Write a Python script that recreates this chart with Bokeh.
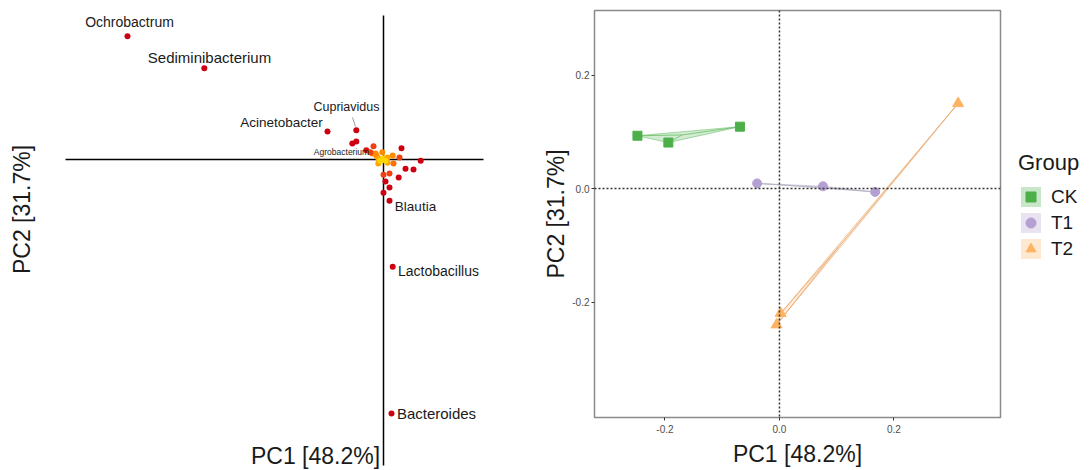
import numpy as np
from bokeh.plotting import figure
from bokeh.models import (ColumnDataSource, Span, Legend, LegendItem, LinearColorMapper,
                          FixedTicker, NumeralTickFormatter)
from bokeh.layouts import row
from bokeh.embed import file_html
from bokeh.resources import INLINE
from bokeh.core.properties import value

FONT = "Liberation Sans"

# ---------------- Left panel: genus loadings ----------------
genus_names = ["Ochrobactrum", "Sediminibacterium", "Cupriavidus", "Acinetobacter",
               "Agrobacterium", "Blautia", "Lactobacillus", "Bacteroides"]
genus_x = [-0.640, -0.448, -0.068, -0.140, -0.033, 0.015, 0.023, 0.020]
genus_y = [0.308, 0.228, 0.073, 0.070, 0.018, -0.103, -0.268, -0.635]

other_x = [-0.068, -0.078, -0.025, 0.045, -0.028, -0.018, -0.003, -0.013, 0.000, 0.010,
           0.023, 0.040, 0.093, -0.013, 0.010, 0.025, 0.055, 0.075, 0.000, 0.015,
           0.038, 0.005, 0.015, 0.000, -0.020, -0.008, 0.005, -0.043]
other_y = [0.045, 0.040, 0.033, 0.028, 0.015, 0.010, 0.018, 0.003, 0.003, 0.005,
           0.010, 0.005, -0.003, -0.010, -0.008, -0.010, -0.023, -0.025, -0.038, -0.035,
           -0.045, -0.055, -0.070, -0.083, 0.015, -0.003, -0.003, 0.023]

# label placement (layout, not data)
label_pos_x = [-0.635, -0.435, -0.0925, -0.255, -0.105, 0.080, 0.1375, 0.1325]
label_pos_y = [0.345, 0.255, 0.1325, 0.0925, 0.020, -0.1175, -0.2775, -0.635]
label_sizes = ["14px", "15px", "12.5px", "13.5px", "8.5px", "13.5px", "14px", "15px"]

# ---------------- Right panel: sample scores ----------------
groups = ["CK", "T1", "T2"]
ck_x = [-0.248, -0.194, -0.069]
ck_y = [0.093, 0.081, 0.109]
t1_x = [-0.039, 0.076, 0.167]
t1_y = [0.009, 0.004, -0.006]
t2_x = [0.312, 0.002, -0.005]
t2_y = [0.150, -0.220, -0.240]

group_colors = {"CK": "#4DAF4A", "T1": "#B4A0D2", "T2": "#FDB462"}
group_markers = {"CK": "square", "T1": "circle", "T2": "triangle"}
group_sizes = {"CK": 9, "T1": 9, "T2": 11}
line_colors = {"CK": "#6DBF6A", "T1": "#B8B0C4", "T2": "#E8A870"}

H = 470

# ===== left figure =====
XL0, XL1 = -0.9575, 0.3925
YL0, YL1 = -0.7775, 0.3975
p1 = figure(width=540, height=H, x_range=(XL0, XL1), y_range=(YL0, YL1),
            x_axis_location=None, y_axis_location=None, min_border=0,
            toolbar_location=None, output_backend="svg")
p1.outline_line_color = None
p1.grid.grid_line_color = None

# reference axes
p1.segment(x0=[-0.795], y0=[0.0], x1=[0.25], y1=[0.0], line_color="black", line_width=1.5)
p1.segment(x0=[0.0], y0=[0.36], x1=[0.0], y1=[-0.765], line_color="black", line_width=1.5)

# leader line for Cupriavidus
p1.segment(x0=[-0.0775], y0=[0.105], x1=[-0.0700], y1=[0.0825], line_color="#9a9a9a", line_width=1)

all_x = np.array(other_x + genus_x)
all_y = np.array(other_y + genus_y)
dist = np.sqrt(all_x ** 2 + all_y ** 2)
pts = ColumnDataSource(dict(x=all_x, y=all_y, d=dist))
palette = ["#FFD700", "#FFA500", "#FF8C00", "#FF7000", "#F04010", "#D81010", "#CC0010", "#CC0010"]
mapper = LinearColorMapper(palette=palette, low=0.0, high=0.07)
p1.scatter("x", "y", source=pts, size=6, fill_color={"field": "d", "transform": mapper},
           line_color=None)

lab = ColumnDataSource(dict(x=label_pos_x, y=label_pos_y, t=genus_names, s=label_sizes))
p1.text("x", "y", text="t", source=lab, text_font=value(FONT), text_font_size="s",
        text_align="center", text_baseline="middle", text_color="#1a1a1a")

p1.text(x=[-0.905], y=[-0.125], text=["PC2 [31.7%]"], angle=np.pi / 2,
        text_font=value(FONT), text_font_size="23px", text_align="center",
        text_baseline="middle", text_color="#1a1a1a")
p1.text(x=[-0.17], y=[-0.74], text=["PC1 [48.2%]"],
        text_font=value(FONT), text_font_size="23px", text_align="center",
        text_baseline="middle", text_color="#1a1a1a")

# ===== right figure =====
p2 = figure(width=465, height=H, x_range=(-0.323, 0.386), y_range=(-0.4035, 0.3137),
            min_border_left=54, min_border_right=5, min_border_top=10, min_border_bottom=53,
            toolbar_location=None, output_backend="svg")
p2.grid.grid_line_color = None
p2.outline_line_color = "#8a8a8a"
p2.outline_line_width = 1.5

for ax in (p2.xaxis[0], p2.yaxis[0]):
    ax.ticker = FixedTicker(ticks=[-0.2, 0.0, 0.2])
    ax.formatter = NumeralTickFormatter(format="0.0")
    ax.axis_line_color = None
    ax.major_tick_line_color = "#333333"
    ax.major_tick_out = 3
    ax.major_tick_in = 0
    ax.minor_tick_line_color = None
    ax.major_label_text_font = FONT
    ax.major_label_text_font_size = "10px"
    ax.major_label_text_color = "#4d4d4d"
    ax.axis_label_text_font = FONT
    ax.axis_label_text_font_size = "23px"
    ax.axis_label_text_font_style = "normal"
    ax.axis_label_text_color = "#1a1a1a"
p2.xaxis.axis_label = "PC1 [48.2%]"
p2.yaxis.axis_label = "PC2 [31.7%]"
p2.xaxis.major_label_standoff = 4
p2.xaxis.axis_label_standoff = 5
p2.yaxis.major_label_standoff = 2
p2.yaxis.axis_label_standoff = 0

p2.add_layout(Span(location=0, dimension="height", line_color="#333333",
                   line_width=1.5, line_dash="2 2"))
p2.add_layout(Span(location=0, dimension="width", line_color="#333333",
                   line_width=1.5, line_dash="2 2"))

group_data = {"CK": (ck_x, ck_y), "T1": (t1_x, t1_y), "T2": (t2_x, t2_y)}
for g in groups:
    gx, gy = np.array(group_data[g][0]), np.array(group_data[g][1])
    c = group_colors[g]
    p2.patches(xs=[list(gx)], ys=[list(gy)], fill_color=c, fill_alpha=0.25,
               line_color=line_colors[g], line_alpha=0.6, line_width=1)
    cx, cy = gx.mean(), gy.mean()
    p2.segment(x0=[cx] * len(gx), y0=[cy] * len(gy), x1=list(gx), y1=list(gy),
               line_color=line_colors[g], line_alpha=0.8, line_width=1)
    p2.scatter(x=list(gx), y=list(gy), marker=group_markers[g], size=group_sizes[g],
               fill_color=c, line_color=c)

# ===== legend figure =====
p3 = figure(width=86, height=H, x_range=(0, 1), y_range=(0, 1),
            x_axis_location=None, y_axis_location=None, min_border=0,
            toolbar_location=None, output_backend="svg")
p3.outline_line_color = None
p3.grid.grid_line_color = None
items = []
for g in groups:
    c = group_colors[g]
    key = p3.quad(left=[np.nan], right=[np.nan], top=[np.nan], bottom=[np.nan],
                  fill_color=c, fill_alpha=0.3, line_color=None)
    sc = p3.scatter(x=[np.nan], y=[np.nan], marker=group_markers[g], size=group_sizes[g],
                    fill_color=c, line_color=c)
    items.append(LegendItem(label=g, renderers=[key, sc]))

legend = Legend(items=items, title="Group", location=(13, 209))
legend.title_text_font = FONT
legend.title_text_font_size = "22px"
legend.title_text_font_style = "normal"
legend.title_text_color = "#1a1a1a"
legend.title_standoff = 8
legend.label_text_font = FONT
legend.label_text_font_size = "19px"
legend.label_text_color = "#1a1a1a"
legend.glyph_width = 25
legend.glyph_height = 25
legend.label_height = 25
legend.label_standoff = 8
legend.spacing = 1
legend.padding = 0
legend.margin = 0
legend.border_line_color = None
legend.background_fill_alpha = 0
p3.add_layout(legend, "center")

for f in (p1, p2, p3):
    f.frame_align = False

layout = row(p1, p2, p3)
open("out.html", "w").write(file_html(layout, INLINE))
